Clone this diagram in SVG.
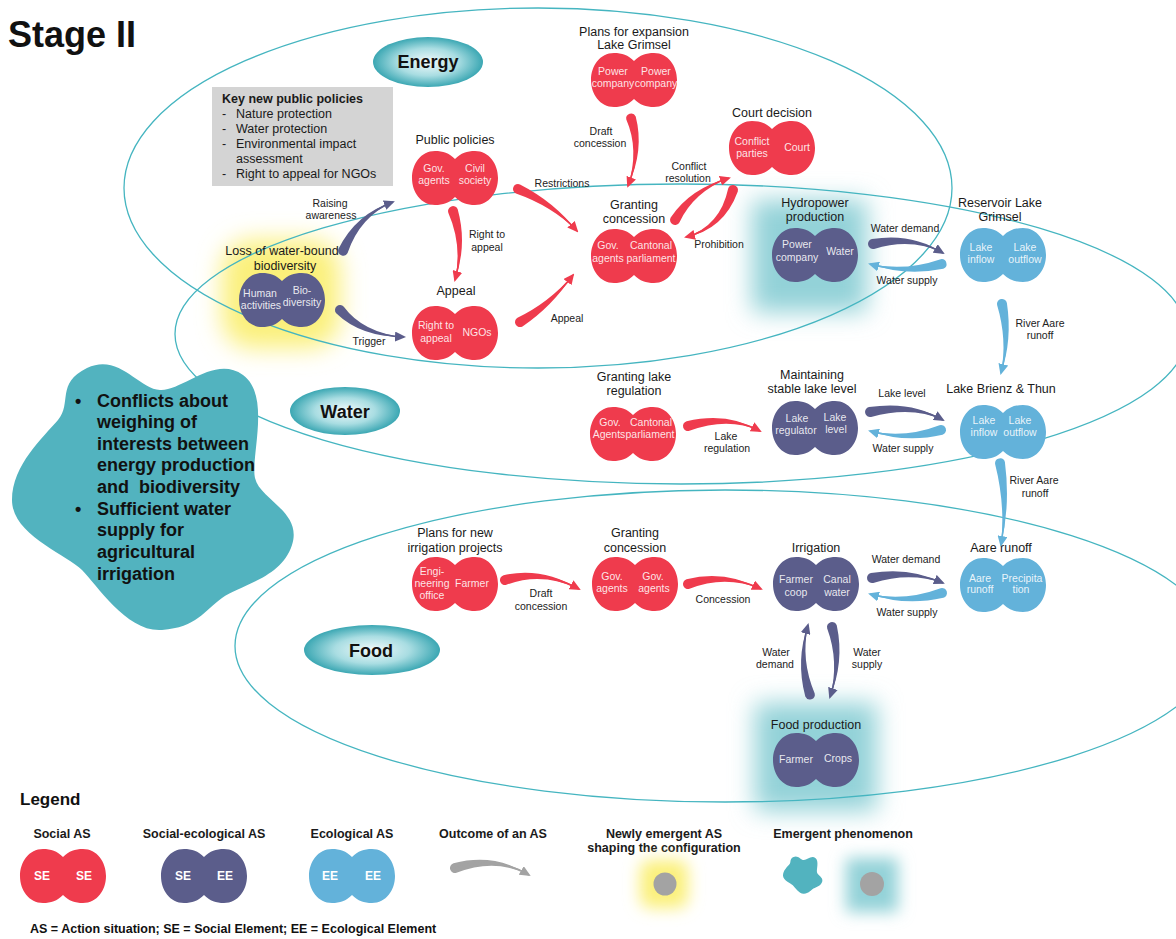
<svg xmlns="http://www.w3.org/2000/svg" width="1176" height="939" viewBox="0 0 1176 939">
<style>
text{font-family:"Liberation Sans",Arial,sans-serif}
.t{font-size:12.5px;fill:#1a1a1a;text-anchor:middle}
.i{font-size:10.5px;fill:#fff;fill-opacity:.88;text-anchor:middle}
.l{font-size:10.5px;fill:#222;text-anchor:middle}
.k{font-size:12.5px;fill:#1a1a1a}
.lg{font-size:12.5px;font-weight:bold;fill:#1a1a1a;text-anchor:middle}
.li{font-size:12px;font-weight:bold;fill:#fff;text-anchor:middle}
.bl{font-size:18px;font-weight:bold;fill:#111}
.dom{fill:none;stroke:#45b5c0;stroke-width:1.3}
.fr{fill:#ef3b4d}.fs{fill:#5b5d8b}.fb{fill:#63b2da}
.ar{fill:#ef3b4d}.as{fill:#5b5d8b}.ab{fill:#63b2da}.ag{fill:#a3a3a3}
.cr{fill:none;stroke:#ef3b4d;stroke-width:1.6}
.cs{fill:none;stroke:#5b5d8b;stroke-width:1.6}
.cb{fill:none;stroke:#63b2da;stroke-width:1.6}
.cg{fill:none;stroke:#a3a3a3;stroke-width:1.6}
</style>
<defs>
<path id="blob" d="M0,-19 C-6,-25 -12,-27 -20,-27 C-34,-27 -43,-14 -43,0 C-43,14 -34,27 -20,27 C-12,27 -6,25 0,19 C6,25 12,27 20,27 C34,27 43,14 43,0 C43,-14 34,-27 20,-27 C12,-27 6,-25 0,-19 Z"/>
<path id="star" d="M87,368 C118.4,352.5 138.1,388.4 160,390 C181.9,391.6 214.7,354.4 243,375 C271.3,395.6 250.4,456.5 255,478 C259.6,499.5 302.7,511.7 292,545 C281.3,578.3 239.9,585.2 222,598 C204.1,610.8 196.9,627.3 162,630 C127.1,632.7 97.6,585.6 82,570 C66.4,554.4 12,535 12,500 C12,465 43.7,436.8 58,420 C72.3,403.2 55.6,383.5 87,368 Z"/>
<radialGradient id="lab" cx="50%" cy="50%" r="50%">
<stop offset="0" stop-color="#f2fafb"/>
<stop offset="0.55" stop-color="#a9dde2"/>
<stop offset="1" stop-color="#3ba7b3"/>
</radialGradient>
<filter id="blur" x="-60%" y="-60%" width="220%" height="220%"><feGaussianBlur stdDeviation="12"/></filter>
<filter id="blur2" x="-60%" y="-60%" width="220%" height="220%"><feGaussianBlur stdDeviation="8"/></filter>
<marker id="mr" viewBox="0 0 11 10" refX="9" refY="5" markerWidth="11" markerHeight="10" markerUnits="userSpaceOnUse" orient="auto"><path d="M0,0 L11,5 L0,10 Z" fill="#ef3b4d"/></marker>
<marker id="ms" viewBox="0 0 11 10" refX="9" refY="5" markerWidth="11" markerHeight="10" markerUnits="userSpaceOnUse" orient="auto"><path d="M0,0 L11,5 L0,10 Z" fill="#5b5d8b"/></marker>
<marker id="mb" viewBox="0 0 11 10" refX="9" refY="5" markerWidth="11" markerHeight="10" markerUnits="userSpaceOnUse" orient="auto"><path d="M0,0 L11,5 L0,10 Z" fill="#63b2da"/></marker>
<marker id="mg" viewBox="0 0 11 10" refX="9" refY="5" markerWidth="11" markerHeight="10" markerUnits="userSpaceOnUse" orient="auto"><path d="M0,0 L11,5 L0,10 Z" fill="#a3a3a3"/></marker>
</defs>
<rect width="1176" height="939" fill="#fff"/>

<g id="glows">
<rect x="222" y="240" width="118" height="108" rx="30" fill="#fbf07a" filter="url(#blur)"/>
<rect x="752" y="200" width="115" height="112" fill="#93d2d8" filter="url(#blur)"/>
<rect x="755" y="703" width="122" height="108" fill="#93d2d8" filter="url(#blur)"/>
</g>

<g id="domains">
<ellipse class="dom" cx="538" cy="188" rx="414" ry="180"/>
<ellipse class="dom" cx="681" cy="334" rx="506" ry="150"/>
<ellipse class="dom" cx="725" cy="646" rx="490" ry="156"/>
</g>

<text x="8" y="47" font-size="36" font-weight="bold" fill="#111">Stage II</text>

<g id="label-energy"><ellipse cx="428" cy="62" rx="55" ry="25" fill="url(#lab)"/><text x="428" y="68" font-size="18" font-weight="bold" fill="#111" text-anchor="middle">Energy</text></g>
<g id="label-water"><ellipse cx="345" cy="411" rx="55" ry="24" fill="url(#lab)"/><text x="345" y="418" font-size="18" font-weight="bold" fill="#111" text-anchor="middle">Water</text></g>
<g id="label-food"><ellipse cx="372" cy="650" rx="68" ry="25" fill="url(#lab)"/><text x="371" y="657" font-size="18" font-weight="bold" fill="#111" text-anchor="middle">Food</text></g>

<g id="emergent-phenomenon">
<use href="#star" fill="#52b3bf"/>
<text class="bl" x="75" y="407">•</text>
<text class="bl" x="97" y="407">Conflicts about</text>
<text class="bl" x="97" y="428">weighing of</text>
<text class="bl" x="97" y="450">interests between</text>
<text class="bl" x="97" y="471">energy production</text>
<text class="bl" x="97" y="493">and&#160; biodiversity</text>
<text class="bl" x="75" y="515">•</text>
<text class="bl" x="97" y="515">Sufficient water</text>
<text class="bl" x="97" y="536">supply for</text>
<text class="bl" x="97" y="558">agricultural</text>
<text class="bl" x="97" y="580">irrigation</text>
</g>

<g id="key-policies">
<rect x="212" y="87" width="181" height="99" fill="#d4d4d4"/>
<text class="k" x="222" y="103" font-weight="bold">Key new public policies</text>
<text class="k" x="222" y="118">-</text><text class="k" x="236" y="118">Nature protection</text>
<text class="k" x="222" y="133">-</text><text class="k" x="236" y="133">Water protection</text>
<text class="k" x="222" y="148">-</text><text class="k" x="236" y="148">Environmental impact</text>
<text class="k" x="236" y="163">assessment</text>
<text class="k" x="222" y="178">-</text><text class="k" x="236" y="178">Right to appeal for NGOs</text>
</g>

<g id="node-plans-expansion">
<use href="#blob" x="634" y="80" class="fr"/>
<text class="t" x="634" y="36">Plans for expansion</text><text class="t" x="634" y="49">Lake Grimsel</text>
<text class="i" x="613" y="75">Power</text><text class="i" x="613" y="87">company</text>
<text class="i" x="656" y="75">Power</text><text class="i" x="656" y="87">company</text>
</g>
<g id="node-court-decision">
<use href="#blob" x="772" y="148" class="fr"/>
<text class="t" x="772" y="117">Court decision</text>
<text class="i" x="752" y="145">Conflict</text><text class="i" x="752" y="157">parties</text>
<text class="i" x="797" y="151">Court</text>
</g>
<g id="node-public-policies">
<use href="#blob" x="455" y="178" class="fr"/>
<text class="t" x="455" y="144">Public policies</text>
<text class="i" x="434" y="172">Gov.</text><text class="i" x="434" y="184">agents</text>
<text class="i" x="475" y="172">Civil</text><text class="i" x="475" y="184">society</text>
</g>
<g id="node-granting-concession-energy">
<use href="#blob" x="634" y="256" class="fr"/>
<text class="t" x="634" y="209">Granting</text><text class="t" x="634" y="223">concession</text>
<text class="i" x="608" y="249">Gov.</text><text class="i" x="608" y="262">agents</text>
<text class="i" x="651" y="249">Cantonal</text><text class="i" x="651" y="262">parliament</text>
</g>
<g id="node-loss-biodiversity">
<use href="#blob" x="282" y="300" class="fs"/>
<text class="t" x="282" y="255">Loss of water-bound</text><text class="t" x="285" y="270">biodiversity</text>
<text class="i" x="260" y="297">Human</text><text class="i" x="261" y="309">activities</text>
<text class="i" x="302" y="294">Bio-</text><text class="i" x="302" y="306">diversity</text>
</g>
<g id="node-appeal">
<use href="#blob" x="455" y="333" class="fr"/>
<text class="t" x="456" y="295">Appeal</text>
<text class="i" x="436" y="329">Right to</text><text class="i" x="436" y="342">appeal</text>
<text class="i" x="477" y="336">NGOs</text>
</g>
<g id="node-hydropower">
<use href="#blob" x="815" y="255" class="fs"/>
<text class="t" x="815" y="207">Hydropower</text><text class="t" x="815" y="221">production</text>
<text class="i" x="797" y="248">Power</text><text class="i" x="797" y="261">company</text>
<text class="i" x="840" y="255">Water</text>
</g>
<g id="node-reservoir-grimsel">
<use href="#blob" x="1003" y="255" class="fb"/>
<text class="t" x="1000" y="207">Reservoir Lake</text><text class="t" x="1000" y="221">Grimsel</text>
<text class="i" x="981" y="251">Lake</text><text class="i" x="981" y="263">inflow</text>
<text class="i" x="1025" y="251">Lake</text><text class="i" x="1025" y="263">outflow</text>
</g>
<g id="node-granting-lake-regulation">
<use href="#blob" x="633" y="434" class="fr"/>
<text class="t" x="634" y="381">Granting lake</text><text class="t" x="634" y="395">regulation</text>
<text class="i" x="610" y="426">Gov.</text><text class="i" x="609" y="438">Agents</text>
<text class="i" x="651" y="426">Cantonal</text><text class="i" x="650" y="438">parliament</text>
</g>
<g id="node-maintaining-lake-level">
<use href="#blob" x="815" y="428" class="fs"/>
<text class="t" x="812" y="379">Maintaining</text><text class="t" x="812" y="393">stable lake level</text>
<text class="i" x="797" y="422">Lake</text><text class="i" x="796" y="434">regulator</text>
<text class="i" x="835" y="421">Lake</text><text class="i" x="836" y="433">level</text>
</g>
<g id="node-lake-brienz-thun">
<use href="#blob" x="1003" y="432" class="fb"/>
<text class="t" x="1001" y="393">Lake Brienz &amp; Thun</text>
<text class="i" x="984" y="424">Lake</text><text class="i" x="984" y="436">inflow</text>
<text class="i" x="1020" y="424">Lake</text><text class="i" x="1020" y="436">outflow</text>
</g>
<g id="node-plans-irrigation">
<use href="#blob" x="455" y="584" class="fr"/>
<text class="t" x="455" y="537">Plans for new</text><text class="t" x="455" y="552">irrigation projects</text>
<text class="i" x="432" y="575">Engi-</text><text class="i" x="432" y="587">neering</text><text class="i" x="432" y="599">office</text>
<text class="i" x="472" y="587">Farmer</text>
</g>
<g id="node-granting-concession-food">
<use href="#blob" x="635" y="584" class="fr"/>
<text class="t" x="635" y="537">Granting</text><text class="t" x="635" y="552">concession</text>
<text class="i" x="612" y="580">Gov.</text><text class="i" x="612" y="592">agents</text>
<text class="i" x="653" y="580">Gov.</text><text class="i" x="654" y="592">agents</text>
</g>
<g id="node-irrigation">
<use href="#blob" x="816" y="584" class="fs"/>
<text class="t" x="816" y="552">Irrigation</text>
<text class="i" x="796" y="583">Farmer</text><text class="i" x="796" y="596">coop</text>
<text class="i" x="837" y="583">Canal</text><text class="i" x="837" y="596">water</text>
</g>
<g id="node-aare-runoff">
<use href="#blob" x="1003" y="585" class="fb"/>
<text class="t" x="1001" y="552">Aare runoff</text>
<text class="i" x="980" y="582">Aare</text><text class="i" x="980" y="593">runoff</text>
<text class="i" x="1022" y="582">Precipita</text><text class="i" x="1021" y="593">tion</text>
</g>
<g id="node-food-production">
<use href="#blob" x="816" y="760" class="fs"/>
<text class="t" x="816" y="729">Food production</text>
<text class="i" x="796" y="763">Farmer</text><text class="i" x="838" y="762">Crops</text>
</g>

<g id="connectors">
<path class="ar" d="M626.3,119.6 Q639.5,149.9 628,186 Q644.5,150.1 635.7,116.4 A5,5 0 0 0 626.3,119.6Z"/>
<path class="cr" d="M631,118 Q642,150 628,186" marker-end="url(#mr)"/>
<path class="ar" d="M679.4,222.5 Q693.5,192 729,178 Q690.5,188 670.7,217.5 A5,5 0 0 0 679.4,222.5Z"/>
<path class="cr" d="M675,220 Q692,190 729,178" marker-end="url(#mr)"/>
<path class="ar" d="M728.2,188.6 Q720.2,226.2 686,237 Q723.8,229.8 737.8,191.4 A5,5 0 0 0 728.2,188.6Z"/>
<path class="cr" d="M733,190 Q722,228 686,237" marker-end="url(#mr)"/>
<path class="ar" d="M516,193.6 Q551.6,206 577,231 Q554.5,202 520,184.4 A5,5 0 0 0 516,193.6Z"/>
<path class="cr" d="M518,189 Q553,204 577,231" marker-end="url(#mr)"/>
<path class="ar" d="M448.3,212.7 Q462.5,245.1 455,280 Q467.5,244.9 457.7,209.3 A5,5 0 0 0 448.3,212.7Z"/>
<path class="cr" d="M453,211 Q465,245 455,280" marker-end="url(#mr)"/>
<path class="ar" d="M522.5,326.4 Q551.7,306.9 573,275 Q548.3,303.1 517.5,317.7 A5,5 0 0 0 522.5,326.4Z"/>
<path class="cr" d="M520,322 Q550,305 573,275" marker-end="url(#mr)"/>
<path class="as" d="M347.6,252.9 Q359.8,216.8 393,202 Q356.3,213.2 338.4,249.1 A5,5 0 0 0 347.6,252.9Z"/>
<path class="cs" d="M343,251 Q358,215 393,202" marker-end="url(#ms)"/>
<path class="as" d="M336.2,313.3 Q361,337.3 404,337 Q363,332.7 343.8,306.7 A5,5 0 0 0 336.2,313.3Z"/>
<path class="cs" d="M340,310 Q362,335 404,337" marker-end="url(#ms)"/>
<path class="as" d="M874.1,248.9 Q911.7,237.5 943,253 Q912.3,232.5 871.9,239.1 A5,5 0 0 0 874.1,248.9Z"/>
<path class="cs" d="M873,244 Q912,235 943,253" marker-end="url(#ms)"/>
<path class="ab" d="M940.7,259.2 Q905,271.5 870,264 Q905,276.5 943.3,268.8 A5,5 0 0 0 940.7,259.2Z"/>
<path class="cb" d="M942,264 Q905,274 870,264" marker-end="url(#mb)"/>
<path class="ab" d="M997.1,305.1 Q1007.5,340 1001,373 Q1012.5,340 1006.9,302.9 A5,5 0 0 0 997.1,305.1Z"/>
<path class="cb" d="M1002,304 Q1010,340 1001,373" marker-end="url(#mb)"/>
<path class="as" d="M871.1,416.9 Q911.7,405.5 943,420 Q912.3,400.5 869,407.1 A5,5 0 0 0 871.1,416.9Z"/>
<path class="cs" d="M870,412 Q912,403 943,420" marker-end="url(#ms)"/>
<path class="ab" d="M939.5,425.2 Q905,438.5 870,431 Q905,443.5 942.5,434.8 A5,5 0 0 0 939.5,425.2Z"/>
<path class="cb" d="M941,430 Q905,441 870,431" marker-end="url(#mb)"/>
<path class="ar" d="M689.4,430.8 Q727.8,416.5 760,431 Q728.2,411.5 686.6,421.2 A5,5 0 0 0 689.4,430.8Z"/>
<path class="cr" d="M688,426 Q728,414 760,431" marker-end="url(#mr)"/>
<path class="ab" d="M995.1,463.9 Q1005.5,505 1001,545 Q1010.5,505 1004.9,462.1 A5,5 0 0 0 995.1,463.9Z"/>
<path class="cb" d="M1000,463 Q1008,505 1001,545" marker-end="url(#mb)"/>
<path class="ar" d="M506.4,584.8 Q541.7,571.5 579,589 Q542.3,566.5 503.6,575.2 A5,5 0 0 0 506.4,584.8Z"/>
<path class="cr" d="M505,580 Q542,569 579,589" marker-end="url(#mr)"/>
<path class="ar" d="M689.5,588.8 Q724.8,574.5 761,589 Q725.2,569.5 686.5,579.2 A5,5 0 0 0 689.5,588.8Z"/>
<path class="cr" d="M688,584 Q725,572 761,589" marker-end="url(#mr)"/>
<path class="as" d="M873.2,582.9 Q909.8,571.5 943,583 Q910.2,566.5 870.9,573.1 A5,5 0 0 0 873.2,582.9Z"/>
<path class="cs" d="M872,578 Q910,569 943,583" marker-end="url(#ms)"/>
<path class="ab" d="M940.6,588.2 Q905,601.5 870,594 Q905,606.5 943.4,597.8 A5,5 0 0 0 940.6,588.2Z"/>
<path class="cb" d="M942,593 Q905,604 870,594" marker-end="url(#mb)"/>
<path class="as" d="M814.7,693.4 Q800.5,659.9 808,625 Q795.5,660.1 805.3,696.6 A5,5 0 0 0 814.7,693.4Z"/>
<path class="cs" d="M810,695 Q798,660 808,625" marker-end="url(#ms)"/>
<path class="as" d="M827.2,628.4 Q839.5,661.9 830,697 Q844.5,662.1 836.8,625.6 A5,5 0 0 0 827.2,628.4Z"/>
<path class="cs" d="M832,627 Q842,662 830,697" marker-end="url(#ms)"/>
</g>

<g id="connector-labels">
<text class="l" x="601" y="135">Draft</text><text class="l" x="600" y="147">concession</text>
<text class="l" x="689" y="170">Conflict</text><text class="l" x="688" y="182">resolution</text>
<text class="l" x="719" y="248">Prohibition</text>
<text class="l" x="562" y="187">Restrictions</text>
<text class="l" x="330" y="207">Raising</text><text class="l" x="331" y="219">awareness</text>
<text class="l" x="487" y="238">Right to</text><text class="l" x="487" y="251">appeal</text>
<text class="l" x="369" y="345">Trigger</text>
<text class="l" x="567" y="322">Appeal</text>
<text class="l" x="905" y="232">Water demand</text>
<text class="l" x="907" y="284">Water supply</text>
<text class="l" x="1040" y="327">River Aare</text><text class="l" x="1040" y="339">runoff</text>
<text class="l" x="902" y="397">Lake level</text>
<text class="l" x="903" y="452">Water supply</text>
<text class="l" x="726" y="440">Lake</text><text class="l" x="727" y="452">regulation</text>
<text class="l" x="1034" y="484">River Aare</text><text class="l" x="1035" y="497">runoff</text>
<text class="l" x="541" y="597">Draft</text><text class="l" x="541" y="610">concession</text>
<text class="l" x="723" y="603">Concession</text>
<text class="l" x="906" y="563">Water demand</text>
<text class="l" x="907" y="616">Water supply</text>
<text class="l" x="776" y="656">Water</text><text class="l" x="775" y="668">demand</text>
<text class="l" x="867" y="656">Water</text><text class="l" x="867" y="668">supply</text>
</g>

<g id="legend">
<text x="20" y="805" font-size="17" font-weight="bold" fill="#111">Legend</text>
<text class="lg" x="62" y="838">Social AS</text>
<text class="lg" x="204" y="838">Social-ecological AS</text>
<text class="lg" x="352" y="838">Ecological AS</text>
<text class="lg" x="493" y="838">Outcome of an AS</text>
<text class="lg" x="664" y="838">Newly emergent AS</text>
<text class="lg" x="664" y="852">shaping the configuration</text>
<text class="lg" x="843" y="838">Emergent phenomenon</text>
<g id="legend-social"><use href="#blob" x="63" y="876" class="fr"/><text class="li" x="42" y="880">SE</text><text class="li" x="84" y="880">SE</text></g>
<g id="legend-socio-eco"><use href="#blob" x="204" y="876" class="fs"/><text class="li" x="183" y="880">SE</text><text class="li" x="225" y="880">EE</text></g>
<g id="legend-eco"><use href="#blob" x="352" y="876" class="fb"/><text class="li" x="330" y="880">EE</text><text class="li" x="373" y="880">EE</text></g>
<g id="legend-outcome">
<path class="ag" d="M456.5,872.8 Q494.8,857.5 529,875 Q495.2,852.5 453.5,863.2 A5,5 0 0 0 456.5,872.8Z"/>
<path class="cg" d="M455,868 Q495,855 529,875" marker-end="url(#mg)"/>
</g>
<g id="legend-newly">
<rect x="640" y="860" width="48" height="48" rx="10" fill="#fbf07a" filter="url(#blur2)"/>
<circle cx="665" cy="884" r="11.5" fill="#a3a3a3"/>
</g>
<g id="legend-emergent">
<use href="#star" fill="#52b3bf" transform="translate(783,857) scale(0.14) translate(-12,-368)"/>
<rect x="846" y="858" width="52" height="54" fill="#93d2d8" filter="url(#blur2)"/>
<circle cx="872" cy="884" r="12" fill="#a3a3a3"/>
</g>
<text x="30" y="933" font-size="12.5" font-weight="bold" fill="#111">AS = Action situation; SE = Social Element; EE = Ecological Element</text>
</g>
</svg>
